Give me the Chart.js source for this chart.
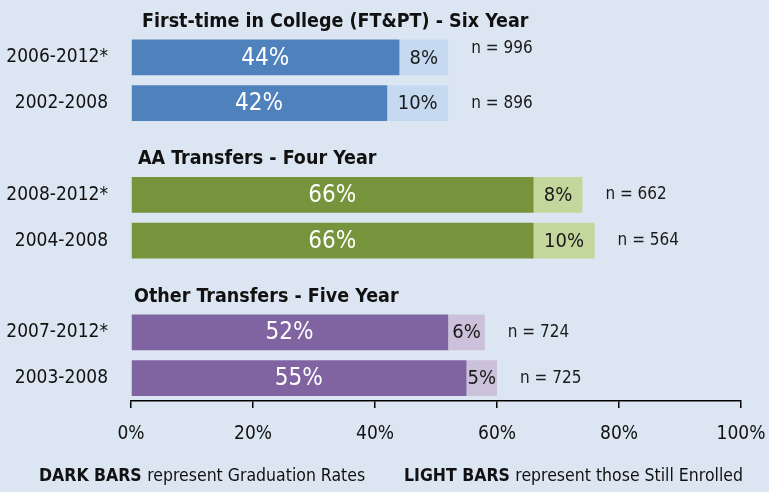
<!DOCTYPE html>
<html>
<head>
<meta charset="utf-8">
<script src="https://cdn.jsdelivr.net/npm/chart.js@4.4.1/dist/chart.umd.min.js"></script>
<style>
  html, body { margin: 0; padding: 0; background: #dce6f2; }
  #wrap { width: 769px; height: 492px; position: relative; }
</style>
</head>
<body>
<div id="wrap"><canvas id="chart"></canvas></div>
<script>
/* ---------- data ---------- */

const cohorts = ["2006-2012*", "2002-2008", "", "2008-2012*", "2004-2008", "", "2007-2012*", "2003-2008"];
const gradRates = [44, 42, null, 66, 66, null, 52, 55];
const stillEnrolled = [8, 10, null, 8, 10, null, 6, 5];
const cohortSizes = ["n = 996", "n = 896", "", "n = 662", "n = 564", "", "n = 724", "n = 725"];
const groupTitles = ["First-time in College (FT&PT) - Six Year", "AA Transfers - Four Year", "Other Transfers - Five Year"];
const tickLabels = ["0%", "20%", "40%", "60%", "80%", "100%"];

const darkColors = ["#4f81bd", "#4f81bd", null, "#77933c", "#77933c", null, "#8064a2", "#8064a2"];
const lightColors = ["#c5d9f1", "#c5d9f1", null, "#c3d69b", "#c3d69b", null, "#ccc1da", "#ccc1da"];

const FONT = "'Liberation Sans Narrow', 'Arial Narrow', 'DejaVu Sans Condensed', sans-serif";

/* ---------- custom drawing ---------- */

const annotate = {
  id: "annotate",
  afterDatasetsDraw(chart) {
    const ctx = chart.ctx;
    const x = chart.scales.x;
    const y = chart.scales.y;
    const pitch = y.getPixelForValue(1) - y.getPixelForValue(0);

    ctx.save();
    ctx.textBaseline = "middle";

    cohorts.forEach((c, i) => {
      if (gradRates[i] == null) return;
      const yc = y.getPixelForValue(i);
      const x0 = x.getPixelForValue(0);
      const x1 = x.getPixelForValue(gradRates[i]);
      const x2 = x.getPixelForValue(gradRates[i] + stillEnrolled[i]);

      ctx.textAlign = "center";
      ctx.fillStyle = "#ffffff";
      ctx.font = "24px " + FONT;
      ctx.fillText(gradRates[i] + "%", (x0 + x1) / 2, yc + 1);

      ctx.fillStyle = "#1a1a1a";
      ctx.font = "20px " + FONT;
      ctx.fillText(stillEnrolled[i] + "%", (x1 + x2) / 2, yc + 1);

      ctx.textAlign = "left";
      ctx.font = "17px " + FONT;
      ctx.fillText(cohortSizes[i], x2 + 23, i === 0 ? yc - 9 : yc);
    });

    // group titles, sitting just above each group
    ctx.fillStyle = "#111";
    ctx.font = "bold 19.5px " + FONT;
    ctx.textAlign = "left";
    [0, 3, 6].forEach((start, g) => {
      const yc = y.getPixelForValue(start) - pitch + 10;
      ctx.fillText(groupTitles[g], x.getPixelForValue(0) + 11 - g * 4, yc);
    });

    // footer legend
    ctx.font = "bold 17.5px " + FONT;
    ctx.fillText("DARK BARS", 39, 476);
    let w = ctx.measureText("DARK BARS ").width;
    ctx.font = "17.5px " + FONT;
    ctx.fillText("represent Graduation Rates", 39 + w, 476);

    ctx.font = "bold 17.5px " + FONT;
    ctx.fillText("LIGHT BARS", 404, 476);
    w = ctx.measureText("LIGHT BARS ").width;
    ctx.font = "17.5px " + FONT;
    ctx.fillText("represent those Still Enrolled", 404 + w, 476);

    ctx.restore();
  }
};

/* ---------- chart ---------- */

new Chart(document.getElementById("chart"), {
  type: "bar",
  data: {
    labels: cohorts,
    datasets: [
      { label: "Graduation Rate", data: gradRates, backgroundColor: darkColors },
      { label: "Still Enrolled", data: stillEnrolled, backgroundColor: lightColors }
    ]
  },
  options: {
    indexAxis: "y",
    responsive: true,
    maintainAspectRatio: false,
    animation: false,
    layout: { padding: { top: 34, right: 28, left: 0, bottom: 0 } },
    datasets: { bar: { barPercentage: 0.78, categoryPercentage: 1 } },
    plugins: {
      legend: { display: false },
      tooltip: { enabled: false }
    },
    scales: {
      x: {
        stacked: true,
        min: 0,
        max: 100,
        afterFit: s => {
          s.height = 91;
          s.paddingRight = 0;
          s.paddingLeft = 0;
        },
        afterBuildTicks: s => {
          s.ticks = tickLabels.map((t, i) => ({ value: i * 20 }));
        },
        border: { display: true, color: "#000", width: 1.5 },
        grid: { drawOnChartArea: false, drawTicks: true, tickLength: 7, color: "#000", lineWidth: 1.5 },
        ticks: {
          padding: 15,
          color: "#111",
          font: { family: FONT, size: 19 },
          callback: (v, i) => tickLabels[i]
        }
      },
      y: {
        stacked: true,
        afterFit: s => { s.width = 131; },
        border: { display: false },
        grid: { display: false, drawTicks: false },
        ticks: {
          padding: 23,
          color: "#111",
          font: { family: FONT, size: 19 }
        }
      }
    }
  },
  plugins: [annotate]
});
</script>
</body>
</html>
